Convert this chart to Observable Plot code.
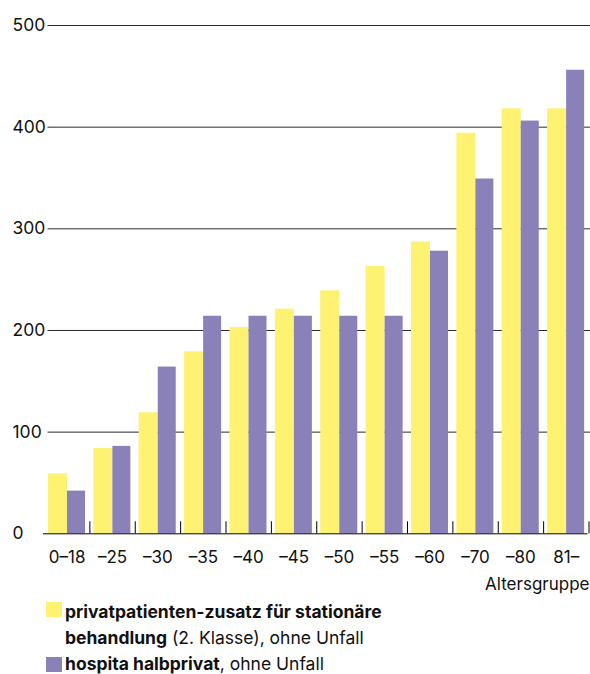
<!DOCTYPE html>
<html>
<head>
<meta charset="utf-8">
<script src="https://cdn.jsdelivr.net/npm/d3@7"></script>
<script src="https://cdn.jsdelivr.net/npm/@observablehq/plot@0.6"></script>
<style>
  body { margin: 0; background: #fff; font-family: Inter, "Noto Sans", sans-serif; color: #111; }
  #chart svg { display: block; }
  .legend { position: relative; height: 78px; font-size: 17.5px; }
  .legend .sw { position: absolute; left: 46px; width: 16px; height: 15px; }
  .legend .tx { position: absolute; left: 65px; line-height: 26px; white-space: nowrap; }
</style>
</head>
<body>
<div id="chart"></div>
<div class="legend" id="legend"></div>
<script>
const ages = ["0–18", "–25", "–30", "–35", "–40", "–45", "–50", "–55", "–60", "–70", "–80", "81–"];
const zusatz = [59, 84, 119, 179, 203, 221, 239, 263, 287, 394, 418, 418];
const hospita = [42, 86, 164, 214, 214, 214, 214, 214, 278, 349, 406, 456];
const yTicks = [0, 100, 200, 300, 400, 500];
const colors = ["#fdf271", "#8b81b9"];

const rows = ages.map((a, i) => ({age: a, zusatz: zusatz[i], hospita: hospita[i]}));

const W = 590, H = 596, mL = 44, mR = 1.5;
const bw = (W - mL - mR) / ages.length;

const chart = Plot.plot({
  width: W,
  height: H,
  marginTop: 25,
  marginBottom: H - 533.3,
  marginLeft: mL,
  marginRight: mR,
  style: {fontFamily: "Inter, 'Noto Sans', sans-serif", fontSize: "17px", color: "#111", background: "#fff"},
  x: {domain: ages, padding: 0, round: false, label: null},
  y: {domain: [0, 500], label: null, axis: null},
  marks: [
    Plot.ruleY(yTicks.filter(d => d > 0), {y: d => d, stroke: "#2a2a2a", strokeWidth: 1, insetLeft: 3.5, insetRight: -1.5}),
    Plot.barY(rows, {x: "age", y: "zusatz", fill: colors[0], insetLeft: 4, insetRight: bw - 23}),
    Plot.barY(rows, {x: "age", y: "hospita", fill: colors[1], insetLeft: 23, insetRight: bw - 41}),
    Plot.ruleY([0], {stroke: "#000", strokeWidth: 1, insetLeft: -1, insetRight: 1}),
    Plot.ruleX(ages, {x: d => d, dx: bw / 2, y1: 0, y2: 0, insetTop: -12, stroke: "#000", strokeWidth: 1}),
    Plot.text(yTicks, {y: d => d, text: d => String(d), frameAnchor: "left", dx: -32, textAnchor: "start", fontSize: 17.5, fill: "#111"}),
    Plot.axisX({tickSize: 0, tickPadding: 17, fontSize: 17, label: null}),
    Plot.text(["Altersgruppe"], {frameAnchor: "bottom-right", dx: 0.5, dy: 56, textAnchor: "end", fontSize: 17, fill: "#111"})
  ]
});
document.getElementById("chart").appendChild(chart);

const legend = document.getElementById("legend");
legend.innerHTML = `
  <div class="sw" style="top:6px;background:${colors[0]}"></div>
  <div class="tx" style="top:3px"><b>privatpatienten-zusatz für stationäre</b></div>
  <div class="tx" style="top:29px"><b>behandlung</b> (2. Klasse), ohne Unfall</div>
  <div class="sw" style="top:61px;background:${colors[1]}"></div>
  <div class="tx" style="top:55px"><b>hospita halbprivat</b>, ohne Unfall</div>
`;
</script>
</body>
</html>
